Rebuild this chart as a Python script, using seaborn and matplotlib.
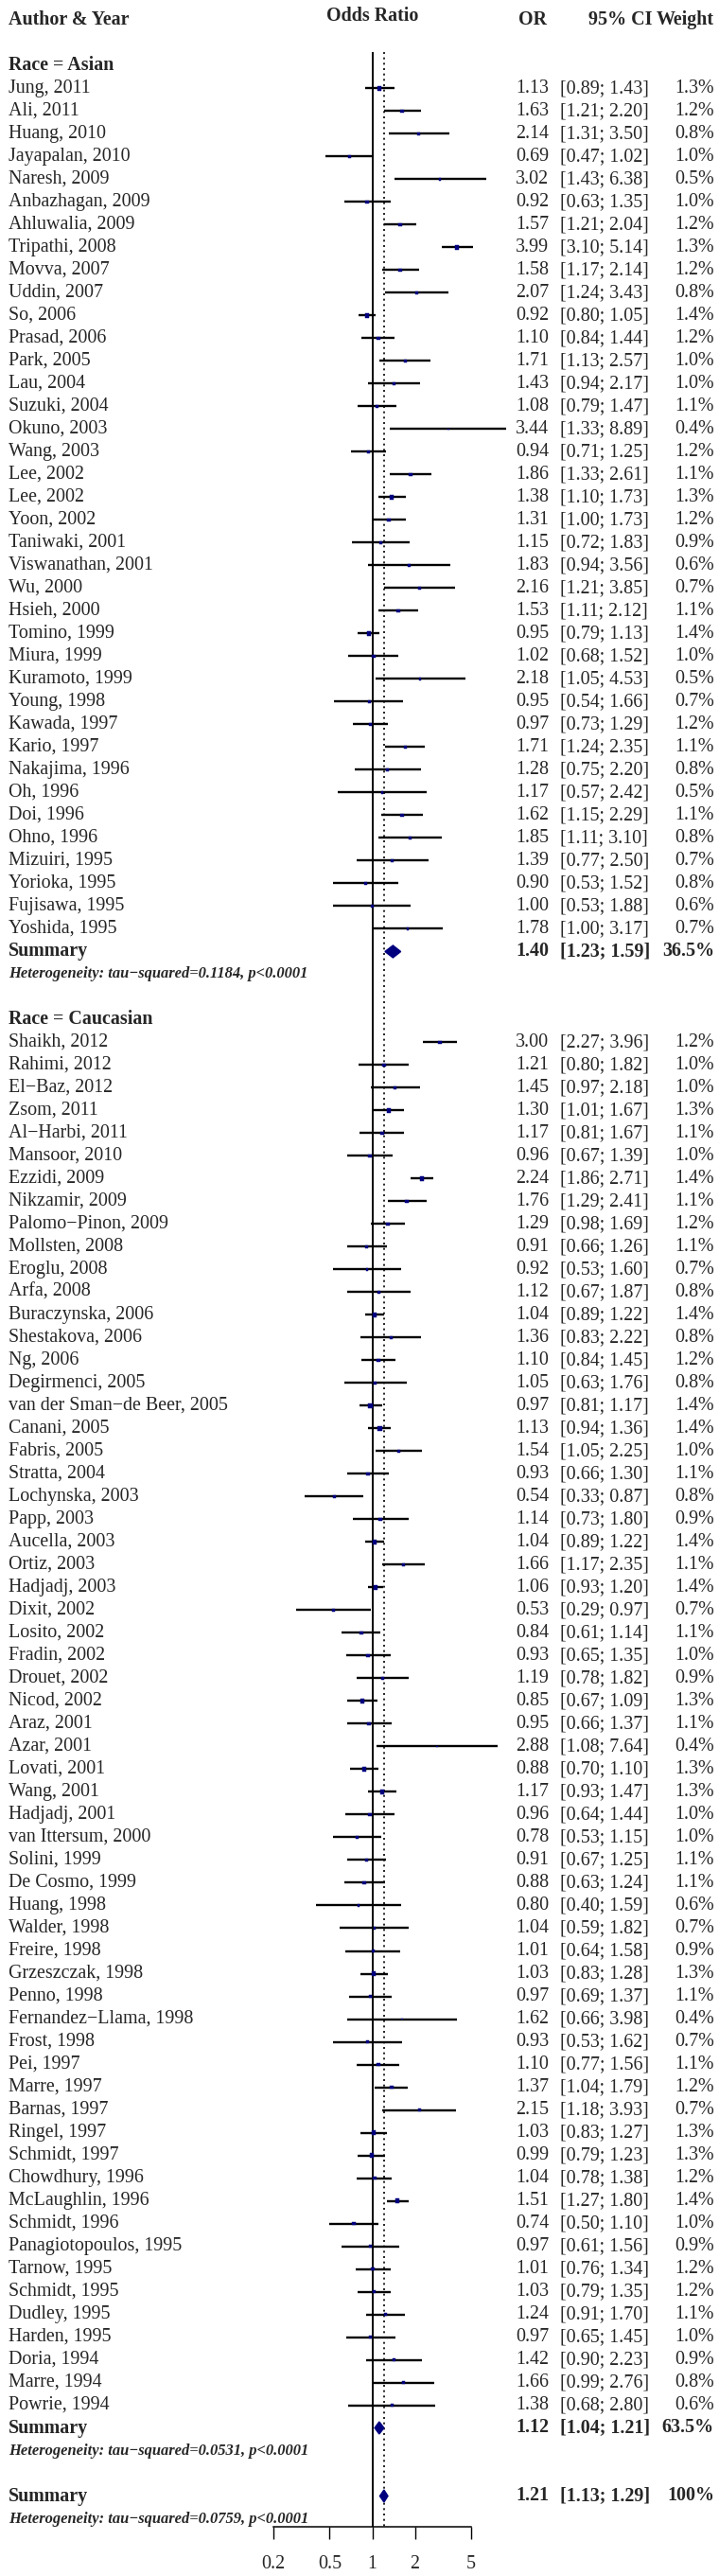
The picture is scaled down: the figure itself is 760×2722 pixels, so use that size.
import numpy as np
import pandas as pd
import matplotlib
matplotlib.use("Agg")
import matplotlib.pyplot as plt
import seaborn as sns
from matplotlib.transforms import blended_transform_factory

M = "\u2212"

# ---------------- data ----------------
asian_study = ["Jung, 2011", "Ali, 2011", "Huang, 2010", "Jayapalan, 2010", "Naresh, 2009",
               "Anbazhagan, 2009", "Ahluwalia, 2009", "Tripathi, 2008", "Movva, 2007", "Uddin, 2007",
               "So, 2006", "Prasad, 2006", "Park, 2005", "Lau, 2004", "Suzuki, 2004",
               "Okuno, 2003", "Wang, 2003", "Lee, 2002", "Lee, 2002", "Yoon, 2002",
               "Taniwaki, 2001", "Viswanathan, 2001", "Wu, 2000", "Hsieh, 2000", "Tomino, 1999",
               "Miura, 1999", "Kuramoto, 1999", "Young, 1998", "Kawada, 1997", "Kario, 1997",
               "Nakajima, 1996", "Oh, 1996", "Doi, 1996", "Ohno, 1996", "Mizuiri, 1995",
               "Yorioka, 1995", "Fujisawa, 1995", "Yoshida, 1995"]
asian_or = [1.13, 1.63, 2.14, 0.69, 3.02, 0.92, 1.57, 3.99, 1.58, 2.07,
            0.92, 1.10, 1.71, 1.43, 1.08, 3.44, 0.94, 1.86, 1.38, 1.31,
            1.15, 1.83, 2.16, 1.53, 0.95, 1.02, 2.18, 0.95, 0.97, 1.71,
            1.28, 1.17, 1.62, 1.85, 1.39, 0.90, 1.00, 1.78]
asian_lo = [0.89, 1.21, 1.31, 0.47, 1.43, 0.63, 1.21, 3.10, 1.17, 1.24,
            0.80, 0.84, 1.13, 0.94, 0.79, 1.33, 0.71, 1.33, 1.10, 1.00,
            0.72, 0.94, 1.21, 1.11, 0.79, 0.68, 1.05, 0.54, 0.73, 1.24,
            0.75, 0.57, 1.15, 1.11, 0.77, 0.53, 0.53, 1.00]
asian_hi = [1.43, 2.20, 3.50, 1.02, 6.38, 1.35, 2.04, 5.14, 2.14, 3.43,
            1.05, 1.44, 2.57, 2.17, 1.47, 8.89, 1.25, 2.61, 1.73, 1.73,
            1.83, 3.56, 3.85, 2.12, 1.13, 1.52, 4.53, 1.66, 1.29, 2.35,
            2.20, 2.42, 2.29, 3.10, 2.50, 1.52, 1.88, 3.17]
asian_w = [1.3, 1.2, 0.8, 1.0, 0.5, 1.0, 1.2, 1.3, 1.2, 0.8,
           1.4, 1.2, 1.0, 1.0, 1.1, 0.4, 1.2, 1.1, 1.3, 1.2,
           0.9, 0.6, 0.7, 1.1, 1.4, 1.0, 0.5, 0.7, 1.2, 1.1,
           0.8, 0.5, 1.1, 0.8, 0.7, 0.8, 0.6, 0.7]

cauc_study = ["Shaikh, 2012", "Rahimi, 2012", f"El{M}Baz, 2012", "Zsom, 2011", f"Al{M}Harbi, 2011",
              "Mansoor, 2010", "Ezzidi, 2009", "Nikzamir, 2009", f"Palomo{M}Pinon, 2009", "Mollsten, 2008",
              "Eroglu, 2008", "Arfa, 2008", "Buraczynska, 2006", "Shestakova, 2006", "Ng, 2006",
              "Degirmenci, 2005", f"van der Sman{M}de Beer, 2005", "Canani, 2005", "Fabris, 2005", "Stratta, 2004",
              "Lochynska, 2003", "Papp, 2003", "Aucella, 2003", "Ortiz, 2003", "Hadjadj, 2003",
              "Dixit, 2002", "Losito, 2002", "Fradin, 2002", "Drouet, 2002", "Nicod, 2002",
              "Araz, 2001", "Azar, 2001", "Lovati, 2001", "Wang, 2001", "Hadjadj, 2001",
              "van Ittersum, 2000", "Solini, 1999", "De Cosmo, 1999", "Huang, 1998", "Walder, 1998",
              "Freire, 1998", "Grzeszczak, 1998", "Penno, 1998", f"Fernandez{M}Llama, 1998", "Frost, 1998",
              "Pei, 1997", "Marre, 1997", "Barnas, 1997", "Ringel, 1997", "Schmidt, 1997",
              "Chowdhury, 1996", "McLaughlin, 1996", "Schmidt, 1996", "Panagiotopoulos, 1995", "Tarnow, 1995",
              "Schmidt, 1995", "Dudley, 1995", "Harden, 1995", "Doria, 1994", "Marre, 1994",
              "Powrie, 1994"]
cauc_or = [3.00, 1.21, 1.45, 1.30, 1.17, 0.96, 2.24, 1.76, 1.29, 0.91,
           0.92, 1.12, 1.04, 1.36, 1.10, 1.05, 0.97, 1.13, 1.54, 0.93,
           0.54, 1.14, 1.04, 1.66, 1.06, 0.53, 0.84, 0.93, 1.19, 0.85,
           0.95, 2.88, 0.88, 1.17, 0.96, 0.78, 0.91, 0.88, 0.80, 1.04,
           1.01, 1.03, 0.97, 1.62, 0.93, 1.10, 1.37, 2.15, 1.03, 0.99,
           1.04, 1.51, 0.74, 0.97, 1.01, 1.03, 1.24, 0.97, 1.42, 1.66,
           1.38]
cauc_lo = [2.27, 0.80, 0.97, 1.01, 0.81, 0.67, 1.86, 1.29, 0.98, 0.66,
           0.53, 0.67, 0.89, 0.83, 0.84, 0.63, 0.81, 0.94, 1.05, 0.66,
           0.33, 0.73, 0.89, 1.17, 0.93, 0.29, 0.61, 0.65, 0.78, 0.67,
           0.66, 1.08, 0.70, 0.93, 0.64, 0.53, 0.67, 0.63, 0.40, 0.59,
           0.64, 0.83, 0.69, 0.66, 0.53, 0.77, 1.04, 1.18, 0.83, 0.79,
           0.78, 1.27, 0.50, 0.61, 0.76, 0.79, 0.91, 0.65, 0.90, 0.99,
           0.68]
cauc_hi = [3.96, 1.82, 2.18, 1.67, 1.67, 1.39, 2.71, 2.41, 1.69, 1.26,
           1.60, 1.87, 1.22, 2.22, 1.45, 1.76, 1.17, 1.36, 2.25, 1.30,
           0.87, 1.80, 1.22, 2.35, 1.20, 0.97, 1.14, 1.35, 1.82, 1.09,
           1.37, 7.64, 1.10, 1.47, 1.44, 1.15, 1.25, 1.24, 1.59, 1.82,
           1.58, 1.28, 1.37, 3.98, 1.62, 1.56, 1.79, 3.93, 1.27, 1.23,
           1.38, 1.80, 1.10, 1.56, 1.34, 1.35, 1.70, 1.45, 2.23, 2.76,
           2.80]
cauc_w = [1.2, 1.0, 1.0, 1.3, 1.1, 1.0, 1.4, 1.1, 1.2, 1.1,
          0.7, 0.8, 1.4, 0.8, 1.2, 0.8, 1.4, 1.4, 1.0, 1.1,
          0.8, 0.9, 1.4, 1.1, 1.4, 0.7, 1.1, 1.0, 0.9, 1.3,
          1.1, 0.4, 1.3, 1.3, 1.0, 1.0, 1.1, 1.1, 0.6, 0.7,
          0.9, 1.3, 1.1, 0.4, 0.7, 1.1, 1.2, 0.7, 1.3, 1.3,
          1.2, 1.4, 1.0, 0.9, 1.2, 1.2, 1.1, 1.0, 0.9, 0.8,
          0.6]

summary_label = ["Asian", "Caucasian", "Overall"]
summary_or = [1.40, 1.12, 1.21]
summary_lo = [1.23, 1.04, 1.13]
summary_hi = [1.59, 1.21, 1.29]
summary_w = ["36.5%", "63.5%", "100%"]
het_text = [f"Heterogeneity: tau{M}squared=0.1184, p<0.0001",
            f"Heterogeneity: tau{M}squared=0.0531, p<0.0001",
            f"Heterogeneity: tau{M}squared=0.0759, p<0.0001"]
group_titles = ["Race = Asian", "Race = Caucasian"]
tick_vals = [0.2, 0.5, 1, 2, 5]
tick_labels = ["0.2", "0.5", "1", "2", "5"]

# ---------------- layout (row numbers) ----------------
asian_rows = list(range(1, len(asian_study) + 1))           # 1..38
sum_rows = [asian_rows[-1] + 1]                             # 39
het_rows = [sum_rows[0] + 1]                                # 40
title_rows = [0, het_rows[0] + 2]                           # 0, 42
cauc_rows = list(range(title_rows[1] + 1, title_rows[1] + 1 + len(cauc_study)))  # 43..103
sum_rows.append(cauc_rows[-1] + 1)                          # 104
het_rows.append(sum_rows[1] + 1)                            # 105
sum_rows.append(het_rows[1] + 2)                            # 107
het_rows.append(sum_rows[2] + 1)                            # 108

df = pd.DataFrame({
    "study": asian_study + cauc_study,
    "or": asian_or + cauc_or,
    "lo": asian_lo + cauc_lo,
    "hi": asian_hi + cauc_hi,
    "w": asian_w + cauc_w,
    "row": asian_rows + cauc_rows,
})

# ---------------- figure ----------------
sns.set_theme(style="white")
plt.rcParams["font.family"] = ["Liberation Serif", "DejaVu Serif"]

W, H = 760, 2722
fig = plt.figure(figsize=(W / 100, H / 100), dpi=100)
x0, x1 = 289, 498
axis_y = 2670
ax = fig.add_axes([x0 / W, (H - axis_y) / H, (x1 - x0) / W, axis_y / H])
ax.set_facecolor("none")
ax.set_xscale("log")
ax.set_xlim(0.2, 5)
row_top, pitch = 69.5, 24.0
ax.set_ylim((axis_y - row_top) / pitch, -row_top / pitch)

NAVY = "#00007f"
FS = 14.4
trans = blended_transform_factory(fig.transFigure, ax.transData)

def fx(px):
    return px / W

# reference lines
ax.vlines(1, -0.6, ax.get_ylim()[0], color="black", lw=1.4, clip_on=False, zorder=1)
ax.vlines(summary_or[2], -0.6, ax.get_ylim()[0], color="black", lw=1.2,
          linestyles=(0, (1.2, 2.2)), clip_on=False, zorder=1)

# CI lines
ax.hlines(df["row"], df["lo"], df["hi"], color="black", lw=1.7, clip_on=False, zorder=2)
# point estimates
sns.scatterplot(data=df, x="or", y="row", size="w", sizes=(2, 9), size_norm=(0.4, 1.4),
                marker="s", color=NAVY, edgecolor=NAVY, linewidth=0.3, legend=False,
                ax=ax, zorder=3, clip_on=False)

# summary diamonds
for r, o, lo, hi in zip(sum_rows, summary_or, summary_lo, summary_hi):
    ax.fill([lo, o, hi, o], [r, r - 0.27, r, r + 0.27], color=NAVY, zorder=4, clip_on=False)

# axis styling
for s in ["top", "left", "right"]:
    ax.spines[s].set_visible(False)
ax.spines["bottom"].set_color("black")
ax.spines["bottom"].set_linewidth(1.1)
ax.set_xticks(tick_vals)
ax.set_xticklabels(tick_labels)
ax.xaxis.set_minor_locator(matplotlib.ticker.NullLocator())
ax.tick_params(axis="x", which="major", direction="out", length=9.5, width=1.0,
               color="black", pad=12, labelsize=FS, bottom=True)
ax.set_yticks([])
ax.set_xlabel("")
ax.set_ylabel("")
ax.grid(False)

# headers
hy = -2
ax.text(fx(9), hy, "Author & Year", transform=trans, ha="left", va="center", fontsize=FS, fontweight="bold")
ax.text(fx(394), hy - 0.2, "Odds Ratio", transform=trans, ha="center", va="center", fontsize=FS, fontweight="bold")
ax.text(fx(563), hy, "OR", transform=trans, ha="center", va="center", fontsize=FS, fontweight="bold")
ax.text(fx(689), hy, "95% CI", transform=trans, ha="right", va="center", fontsize=FS, fontweight="bold")
ax.text(fx(755), hy, "Weight", transform=trans, ha="right", va="center", fontsize=FS, fontweight="bold")

# group titles
for r, t in zip(title_rows, group_titles):
    ax.text(fx(9), r, t, transform=trans, ha="left", va="center", fontsize=FS, fontweight="bold")

# study rows
for _, d in df.iterrows():
    r = d["row"]
    ax.text(fx(9), r, d["study"], transform=trans, ha="left", va="center", fontsize=FS)
    ax.text(fx(580), r, f"{d['or']:.2f}", transform=trans, ha="right", va="center", fontsize=FS)
    ax.text(fx(592), r, f"[{d['lo']:.2f}; {d['hi']:.2f}]", transform=trans, ha="left", va="center", fontsize=FS)
    ax.text(fx(755), r, f"{d['w']:.1f}%", transform=trans, ha="right", va="center", fontsize=FS)

# summary rows
for r, o, lo, hi, w in zip(sum_rows, summary_or, summary_lo, summary_hi, summary_w):
    ax.text(fx(9), r, "Summary", transform=trans, ha="left", va="center", fontsize=FS, fontweight="bold")
    ax.text(fx(580), r, f"{o:.2f}", transform=trans, ha="right", va="center", fontsize=FS, fontweight="bold")
    ax.text(fx(592), r, f"[{lo:.2f}; {hi:.2f}]", transform=trans, ha="left", va="center", fontsize=FS, fontweight="bold")
    ax.text(fx(755), r, w, transform=trans, ha="right", va="center", fontsize=FS, fontweight="bold")

for r, t in zip(het_rows, het_text):
    ax.text(fx(9), r, t, transform=trans, ha="left", va="center", fontsize=11.9,
            fontweight="bold", fontstyle="italic")

fig.savefig("out.png", dpi=100, facecolor="white")
